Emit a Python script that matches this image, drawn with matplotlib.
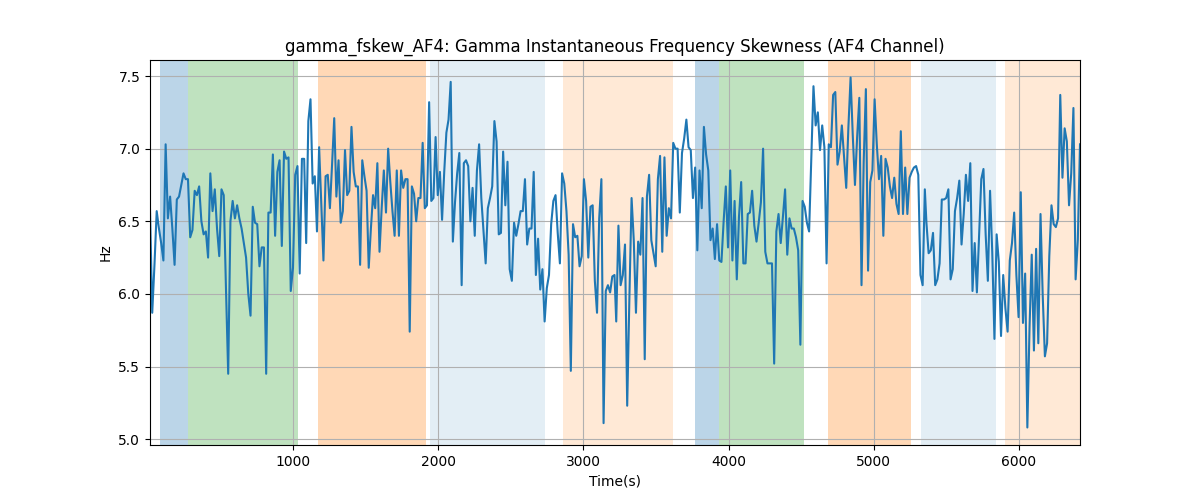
import numpy as np
import matplotlib
matplotlib.use("Agg")
import matplotlib.pyplot as plt

# skewness values, left to right, in six stretches
hz_part1 = [6.58, 5.87, 6.20, 6.57, 6.45, 6.35, 6.23, 7.03, 6.52, 6.67, 6.45, 6.20, 6.65, 6.67,
            6.75, 6.83, 6.79, 6.79, 6.39, 6.44, 6.71, 6.68, 6.74, 6.50, 6.41, 6.43, 6.25, 6.83,
            6.57, 6.72, 6.45, 6.26, 6.72, 6.68, 6.04, 5.45, 6.50, 6.64, 6.52, 6.61, 6.52, 6.45,
            6.35, 6.25, 6.00, 5.85, 6.60, 6.49, 6.48, 6.19, 6.32, 6.32, 5.45, 6.56, 6.56, 6.96,
            6.40, 6.84, 6.92, 6.33, 6.98, 6.93, 6.94, 6.02, 6.18, 6.82, 6.88, 6.14, 6.93, 6.93]
hz_part2 = [6.35, 7.19, 7.34, 6.76, 6.81, 6.43, 7.01, 6.61, 6.23, 6.81, 6.82, 6.59, 6.89, 7.21,
            6.67, 6.92, 6.49, 6.57, 6.99, 6.68, 6.71, 7.15, 6.84, 6.74, 6.74, 6.20, 6.92, 6.81,
            6.71, 6.18, 6.45, 6.68, 6.59, 6.90, 6.29, 6.59, 6.85, 6.56, 7.00, 6.77, 6.57, 6.40,
            6.85, 6.40, 6.85, 6.73, 6.79, 6.79, 5.74, 6.74, 6.69, 6.50, 6.66, 6.66, 7.04, 6.59,
            6.61, 7.32, 6.64, 6.66, 7.08, 6.68, 6.84, 6.51, 6.84, 7.11, 7.20, 7.46, 6.36, 6.63,
            6.83, 6.97]
hz_part3 = [6.06, 6.90, 6.92, 6.88, 6.50, 6.73, 6.40, 6.85, 7.03, 6.66, 6.43, 6.21, 6.59, 6.66,
            6.74, 7.19, 7.05, 6.41, 6.42, 6.98, 6.61, 6.91, 6.17, 6.09, 6.49, 6.40, 6.48, 6.57,
            6.57, 6.79, 6.34, 6.45, 6.45, 6.84, 6.13, 6.38, 6.03, 6.17, 5.81, 6.04, 6.13, 6.48,
            6.64, 6.68, 6.42, 6.21, 6.83, 6.76, 6.57, 6.27, 5.47, 6.48, 6.39, 6.40, 6.19, 6.26,
            6.79, 6.64, 6.25, 6.60, 6.61, 6.09, 5.87, 6.52, 6.79, 5.11, 6.02, 6.06, 6.01, 6.12,
            6.13]
hz_part4 = [5.81, 6.47, 6.06, 6.13, 6.34, 5.23, 5.97, 6.66, 6.37, 5.87, 6.36, 6.27, 6.66, 5.55,
            6.67, 6.82, 6.37, 6.28, 6.19, 6.79, 6.95, 6.29, 6.94, 6.40, 6.59, 6.52, 7.04, 7.00,
            7.00, 6.56, 6.97, 7.07, 7.20, 7.01, 6.99, 6.66, 6.87, 6.30, 6.85, 6.59, 7.15, 6.96,
            6.85, 6.37, 6.45, 6.24, 6.48, 6.23, 6.22, 6.50, 6.74, 6.32, 6.85, 6.23, 6.64, 6.10,
            6.53, 6.77, 6.21, 6.21, 6.55, 6.56, 6.71, 6.47, 6.36, 6.49, 6.63, 7.00, 6.29, 6.21,
            6.21]
hz_part5 = [6.21, 5.52, 6.43, 6.55, 6.35, 6.53, 6.72, 6.27, 6.52, 6.45, 6.45, 6.39,
            6.30, 5.65, 6.64, 6.60, 6.49, 6.43, 6.93, 7.43, 7.16, 7.25, 6.99, 7.16, 7.01, 6.21,
            7.03, 7.01, 7.37, 7.39, 6.89, 6.98, 7.16, 6.95, 6.73, 7.15, 7.49, 7.09, 6.75, 7.08,
            7.35, 6.06, 6.91, 7.41, 6.16, 6.77, 6.85, 7.34, 7.03, 6.79, 6.95, 6.40, 6.93, 6.87,
            6.74, 6.66, 6.80, 6.62, 6.55, 7.12, 6.55, 6.87, 6.55, 6.80, 6.84, 6.87, 6.88, 6.82,
            6.13, 6.06, 6.72]
hz_part6 = [6.49, 6.28, 6.30, 6.42, 6.06, 6.10, 6.21, 6.65, 6.65, 6.66, 6.72, 6.10, 6.17, 6.57,
            6.66, 6.78, 6.34, 6.55, 6.82, 6.64, 6.90, 6.02, 6.35, 6.01, 6.41, 6.79, 6.86, 6.41,
            6.09, 6.71, 6.29, 5.69, 6.41, 6.22, 5.71, 6.13, 5.90, 5.74, 6.23, 6.35, 6.56, 6.13,
            5.84, 6.70, 5.80, 6.14, 5.08, 5.77, 6.27, 5.61, 6.31, 5.66, 6.55, 5.99, 5.57, 5.66,
            6.26, 6.61, 6.48, 6.46, 6.52, 7.37, 6.80, 7.14, 7.05, 6.61, 6.83, 7.28, 6.10, 6.37,
            7.03]
hz_parts = [hz_part1, hz_part2, hz_part3, hz_part4, hz_part5, hz_part6]

# time (s) at the first and last sample of each stretch
part_starts = [14, 1090, 2161, 3226, 4299, 5363]
part_ends = [1076, 2145, 3214, 4283, 5352, 6421]

# shaded segments
segment_starts = [83, 275, 1168, 1945, 2862, 3767, 3933, 4683, 5324, 5903]
segment_ends = [275, 1037, 1915, 2735, 3614, 3933, 4522, 5260, 5841, 6421]
segment_colors = ['tab:blue', 'tab:green', 'tab:orange', 'tab:blue', 'tab:orange',
                  'tab:blue', 'tab:green', 'tab:orange', 'tab:blue', 'tab:orange']
segment_alphas = [0.3, 0.3, 0.3, 0.12, 0.17, 0.3, 0.3, 0.3, 0.12, 0.17]

hz = np.concatenate([np.array(p) for p in hz_parts])
time = np.concatenate([np.linspace(s, e, len(p)) for s, e, p in zip(part_starts, part_ends, hz_parts)])

fig, ax = plt.subplots(figsize=(12, 5), dpi=100)

for s, e, c, a in zip(segment_starts, segment_ends, segment_colors, segment_alphas):
    ax.axvspan(s, e, color=c, alpha=a, linewidth=0)

ax.plot(time, hz, color='tab:blue', linewidth=1.5)
ax.set_xlim(time[0], time[-1])

ax.set_title('gamma_fskew_AF4: Gamma Instantaneous Frequency Skewness (AF4 Channel)')
ax.set_xlabel('Time(s)')
ax.set_ylabel('Hz')
ax.grid(True, color='#b0b0b0')

fig.savefig('out.png')
